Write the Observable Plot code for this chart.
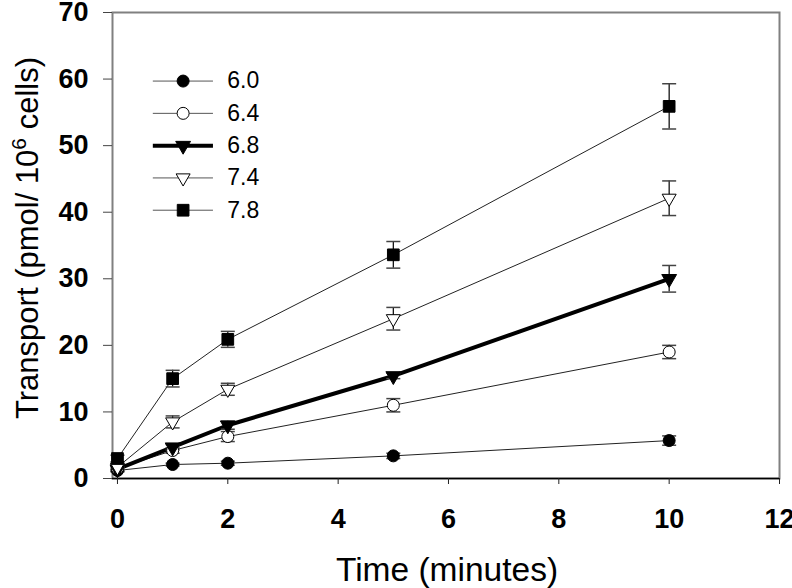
<!DOCTYPE html>
<html><head><meta charset="utf-8">
<script src="https://cdn.jsdelivr.net/npm/d3@7"></script>
<script src="https://cdn.jsdelivr.net/npm/@observablehq/plot@0.6"></script>
<style>
body{margin:0;background:#fff}
#chart{position:relative;width:792px;height:588px}
#chart svg g[aria-label="x-axis tick label"],
#chart svg g[aria-label="y-axis tick label"],
#chart svg g[aria-label="x-axis tick label"] text,
#chart svg g[aria-label="y-axis tick label"] text {
  font-size: 27px; font-weight: bold; fill: black;
}
</style>
</head><body><div id="chart"></div>
<script>
// ---- data ----
const times = [0, 1, 2, 5, 10];
const series = ["6.0", "6.4", "6.8", "7.4", "7.8"];
const mean_6_0 = [1.2, 2.1, 2.3, 3.4, 5.7];
const err_6_0  = [0.2, 0.2, 0.3, 0.4, 0.7];
const mean_6_4 = [1.5, 4.2, 6.3, 11.0, 19.0];
const err_6_4  = [0.3, 0.4, 0.75, 1.0, 1.0];
const mean_6_8 = [1.4, 4.7, 8.0, 15.4, 30.0];
const err_6_8  = [0.3, 0.4, 0.6, 0.4, 2.0];
const mean_7_4 = [1.7, 8.5, 13.4, 24.0, 42.1];
const err_7_4  = [0.3, 0.9, 0.9, 1.7, 2.6];
const mean_7_8 = [3.0, 15.0, 20.9, 33.6, 55.9];
const err_7_8  = [0.5, 1.25, 1.2, 2.0, 3.4];
const xTicks = [0, 2, 4, 6, 8, 10, 12];
const yTicks = [0, 10, 20, 30, 40, 50, 60, 70];
const xLabel = "Time (minutes)";

const means = [mean_6_0, mean_6_4, mean_6_8, mean_7_4, mean_7_8];
const errs  = [err_6_0, err_6_4, err_6_8, err_7_4, err_7_8];

// ---- styles ----
const FONT = "'Liberation Sans', Arial, Helvetica, sans-serif";
const look = {
  "6.0": {symbol: "circle",   rotate: 0,   fill: "black", r: 6,   lw: 1},
  "6.4": {symbol: "circle",   rotate: 0,   fill: "white", r: 6,   lw: 1},
  "6.8": {symbol: "triangle", rotate: 180, fill: "black", r: 5.5, lw: 4},
  "7.4": {symbol: "triangle", rotate: 180, fill: "white", r: 5.2, lw: 1},
  "7.8": {symbol: "square",   rotate: 0,   fill: "black", r: 6.6, lw: 1}
};
const capSymbol = {draw(ctx) { ctx.moveTo(-7, 0); ctx.lineTo(7, 0); }};

const rows = series.flatMap((s, i) => times.map((t, j) => ({
  s, t, v: means[i][j], lo: means[i][j] - errs[i][j], hi: means[i][j] + errs[i][j]
})));

// legend layout (in data units of the chart)
const legendRows = series.map((s, i) => ({s, y: 59.7 - i * 4.85}));

const marks = [
  Plot.frame({stroke: "#808080", strokeWidth: 2}),
  Plot.ruleY([0], {stroke: "black", strokeWidth: 1.5}),
  Plot.axisX({ticks: xTicks, tickSize: 6, tickPadding: 24, label: null, stroke: "#222",
    fontSize: 27, fontWeight: "bold", fill: "black"}),
  Plot.axisY({ticks: yTicks, tickSize: 9, tickPadding: 15, label: null, stroke: "#444",
    fontSize: 27, fontWeight: "bold", fill: "black"})
];

for (const s of series) {
  const L = look[s];
  const d = rows.filter(r => r.s === s);
  marks.push(Plot.line(d, {x: "t", y: "v", stroke: L.lw > 1 ? "black" : "#222", strokeWidth: L.lw}));
}
marks.push(Plot.ruleX(rows, {x: "t", y1: "lo", y2: "hi", stroke: "black", strokeWidth: 1.2}));
marks.push(Plot.dot(rows, {x: "t", y: "lo", symbol: capSymbol, fill: "none", stroke: "#444", strokeWidth: 1.5}));
marks.push(Plot.dot(rows, {x: "t", y: "hi", symbol: capSymbol, fill: "none", stroke: "#444", strokeWidth: 1.5}));
for (const s of series) {
  const L = look[s];
  const d = rows.filter(r => r.s === s);
  marks.push(Plot.dot(d, {x: "t", y: "v", symbol: L.symbol, rotate: L.rotate, r: L.r,
    fill: L.fill, stroke: "black", strokeWidth: 1}));
}
// legend
for (const s of series) {
  const L = look[s];
  const d = legendRows.filter(r => r.s === s);
  marks.push(Plot.ruleY(d, {y: "y", x1: 0.65, x2: 1.74, stroke: L.lw > 1 ? "black" : "#555", strokeWidth: L.lw}));
  marks.push(Plot.dot(d, {x: 1.19, y: "y", symbol: L.symbol, rotate: L.rotate, r: L.r,
    fill: L.fill, stroke: "black", strokeWidth: 1}));
}
marks.push(Plot.text(legendRows, {x: 1.99, y: "y", text: "s", textAnchor: "start",
  fontSize: 23, fontWeight: "normal", fill: "black"}));

const chart = Plot.plot({
  width: 792, height: 588,
  marginLeft: 112, marginRight: 13, marginTop: 12, marginBottom: 110,
  style: {fontFamily: FONT, fontSize: "23px", background: "white", overflow: "visible"},
  x: {domain: [-0.09, 12]},
  y: {domain: [0, 70]},
  marks
});

// axis titles as real text
const svg = d3.select(chart);
svg.append("text")
  .attr("x", 447).attr("y", 581)
  .attr("text-anchor", "middle")
  .attr("font-family", FONT).attr("font-size", 33.5).attr("fill", "black")
  .text(xLabel);

const yl = svg.append("text")
  .attr("transform", "translate(38,238) rotate(-90)")
  .attr("text-anchor", "middle")
  .attr("font-family", FONT).attr("font-size", 31).attr("fill", "black");
yl.append("tspan").text("Transport (pmol/ 10");
yl.append("tspan").attr("font-size", 21).attr("dy", -12).text("6");
yl.append("tspan").attr("dy", 12).text(" cells)");

document.getElementById("chart").appendChild(chart);
</script>
</body></html>
